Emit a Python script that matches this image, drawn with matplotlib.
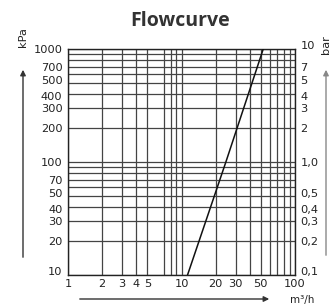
import matplotlib
matplotlib.use("Agg")
import matplotlib.pyplot as plt
import matplotlib.transforms as mtransforms

# Durchfluss (m3/h) und Druck (kPa) der Kennlinie
flow = [11.3, 24.6, 52.5]
pressure = [10, 100, 1000]

# Gitterlinien (6 fehlt im Original)
x_grid = [1, 2, 3, 4, 5, 7, 8, 9, 10, 20, 30, 40, 50, 60, 70, 80, 90, 100]
y_grid = [10, 20, 30, 40, 50, 60, 70, 80, 90, 100,
          200, 300, 400, 500, 600, 700, 800, 900, 1000]

# Achsenbeschriftungen
x_ticks = [1, 2, 3, 4, 5, 10, 20, 30, 50, 100]
x_labels = ['1', '2', '3', '4', '5', '10', '20', '30', '50', '100']
kpa_ticks = [10, 20, 30, 40, 50, 70, 100, 200, 300, 400, 500, 700, 1000]
kpa_labels = ['10', '20', '30', '40', '50', '70', '100', '200', '300', '400', '500', '700', '1000']
bar_ticks = [10, 20, 30, 40, 50, 100, 200, 300, 400, 500, 700, 1000]
bar_labels = ['0,1', '0,2', '0,3', '0,4', '0,5', '1,0', '2', '3', '4', '5', '7', '10']

W, H = 336, 307
fig = plt.figure(figsize=(W / 100, H / 100), dpi=100)
ax = fig.add_axes([68 / W, 1 - 275 / H, (295 - 68) / W, (275 - 49) / H])
ax.set_xscale('log')
ax.set_yscale('log')
ax.set_xlim(1, 100)
ax.set_ylim(10, 1000)

for x in x_grid:
    ax.axvline(x, color='#444444', lw=0.9, zorder=1)
for y in y_grid:
    ax.axhline(y, color='#444444', lw=0.9, zorder=1)

ax.plot(flow, pressure, color='#111111', lw=1.1, zorder=3)

for s in ax.spines.values():
    s.set_color('#222222')
    s.set_linewidth(1.0)

fs = 8.2
ax.minorticks_off()
ax.set_xticks(x_ticks)
ax.set_xticklabels(x_labels, fontsize=fs, color='#222222')
ax.set_yticks(kpa_ticks)
ax.set_yticklabels(kpa_labels, fontsize=fs, color='#222222')
ax.tick_params(length=0, pad=4)
ax.tick_params(axis='x', pad=3)

ax2 = ax.twinx()
ax2.set_yscale('log')
ax2.set_ylim(10, 1000)
ax2.minorticks_off()
ax2.set_yticks(bar_ticks)
ax2.set_yticklabels(bar_labels, fontsize=fs, color='#222222')
ax2.tick_params(length=0, pad=4)
for s in ax2.spines.values():
    s.set_visible(False)

# dicht stehende Beschriftungen etwas auseinanderschieben (Punkte)
shift = {'500': 2.0, '400': -1.5, '50': 2.0, '40': -1.5, '10': 3.0,
         '5': 2.0, '4': -1.5, '0,5': 2.0, '0,4': -1.5, '0,1': 3.0}
for t in ax.get_yticklabels() + ax2.get_yticklabels():
    dy = shift.get(t.get_text(), 0)
    if dy:
        t.set_transform(t.get_transform() + mtransforms.ScaledTranslation(0, dy / 72, fig.dpi_scale_trans))

fig.text(180 / W, 1 - 21 / H, 'Flowcurve', ha='center', va='center',
         fontsize=14, fontweight='bold', family='Open Sans', color='#333333')
fig.text(23 / W, 1 - 37 / H, 'kPa', rotation=90, ha='center', va='center',
         fontsize=fs, color='#222222')
fig.text(326 / W, 1 - 45 / H, 'bar', rotation=90, ha='center', va='center',
         fontsize=fs, color='#222222')
fig.text(302 / W, 1 - 300 / H, 'm³/h', ha='center', va='center',
         fontsize=fs - 0.7, color='#222222')

arrow = dict(arrowstyle='-|>', color='#333333', lw=1.0, mutation_scale=8)
ax.annotate('', xy=(23, H - 67), xytext=(23, H - 260), xycoords='figure pixels',
            textcoords='figure pixels', arrowprops=arrow)
ax.annotate('', xy=(326, H - 67), xytext=(326, H - 258), xycoords='figure pixels',
            textcoords='figure pixels', arrowprops=dict(arrow, color='#888888'))
ax.annotate('', xy=(272, H - 299), xytext=(77, H - 299), xycoords='figure pixels',
            textcoords='figure pixels', arrowprops=arrow)

fig.savefig('out.png', dpi=100)
